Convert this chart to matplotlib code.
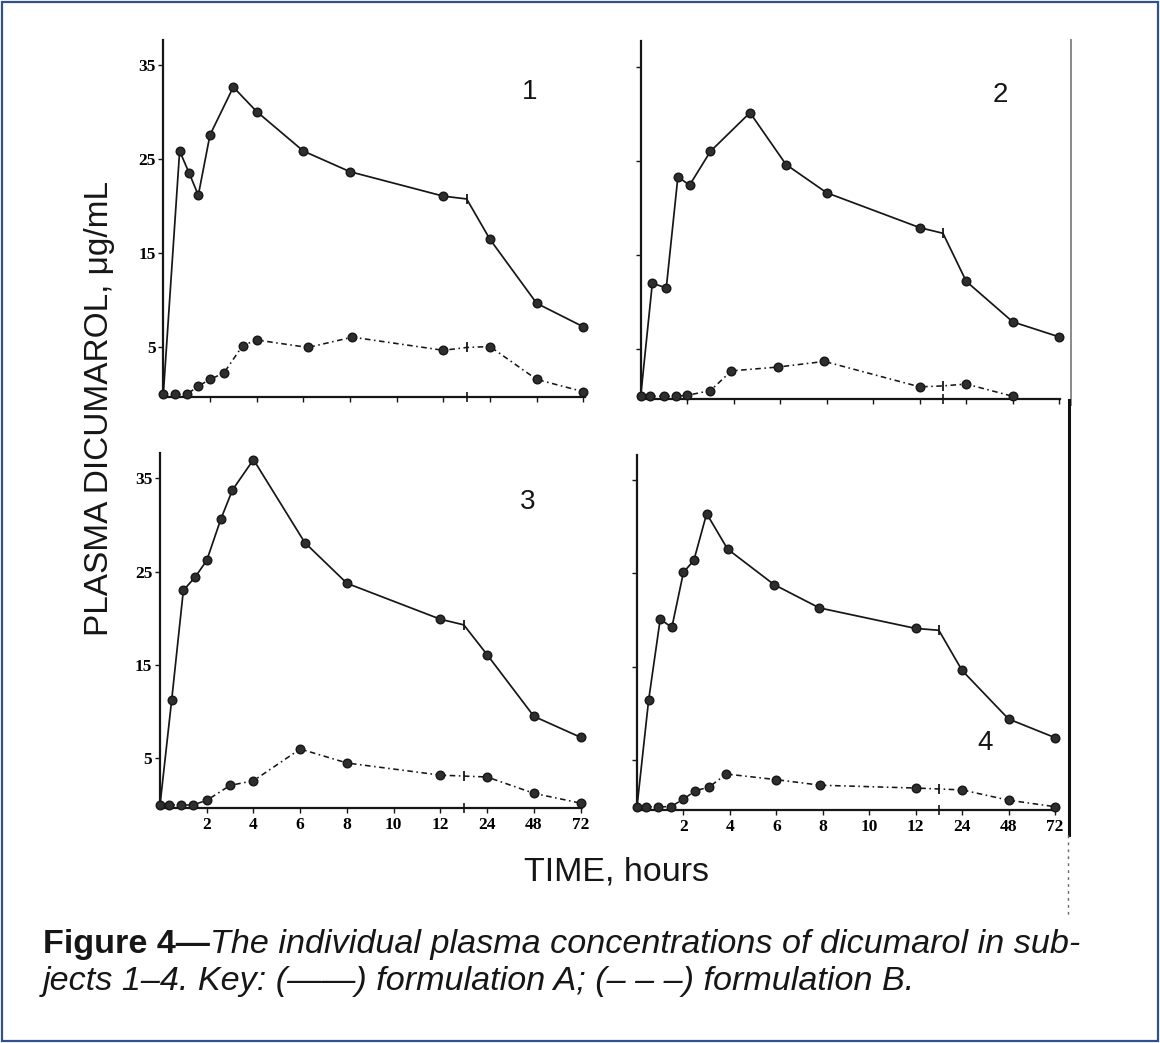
import matplotlib
matplotlib.use("Agg")
import matplotlib.pyplot as plt
import numpy as np
from matplotlib.lines import Line2D
from matplotlib.patches import Rectangle

# ---------------- data (hours, µg/mL) ----------------
tick_labels = ["2", "4", "6", "8", "10", "12", "24", "48", "72"]
tick_hours = [2, 4, 6, 8, 10, 12, 24, 48, 72]
y_ticks = [5, 15, 25, 35]
panel_names = ["1", "2", "3", "4"]

p1_a_t = [0, 0.7, 1.1, 1.5, 2, 3, 4, 6, 8, 12, 24, 48, 72]
p1_a_v = [0, 25.9, 23.6, 21.2, 27.6, 32.7, 30.1, 25.9, 23.7, 21.1, 16.5, 9.7, 7.2]
p1_a_break = 20.8
p1_b_t = [0.5, 1, 1.5, 2, 2.6, 3.4, 4, 6.2, 8.1, 12, 24, 48, 72]
p1_b_v = [0, 0, 0.9, 1.6, 2.3, 5.2, 5.8, 5.0, 6.1, 4.7, 5.1, 1.6, 0.3]
p1_b_break = 5.0

p2_a_t = [0, 0.5, 1.1, 1.6, 2.1, 3, 4.7, 6.25, 8, 12, 24, 48, 72]
p2_a_v = [0, 12.0, 11.5, 23.3, 22.4, 26.0, 30.1, 24.6, 21.6, 17.9, 12.2, 7.9, 6.3]
p2_a_break = 17.3
p2_b_t = [0.4, 1, 1.5, 2, 3, 3.9, 5.9, 7.9, 12, 24, 48]
p2_b_v = [0, 0, 0, 0.1, 0.6, 2.7, 3.1, 3.7, 1.0, 1.3, 0]
p2_b_break = 1.1

p3_a_t = [0, 0.5, 1, 1.5, 2, 2.6, 3.1, 4, 6.2, 8, 12, 24, 48, 72]
p3_a_v = [0, 11.25, 23.0, 24.4, 26.2, 30.6, 33.75, 37.0, 28.1, 23.75, 19.9, 16.1, 9.5, 7.25]
p3_a_break = 19.3
p3_b_t = [0.4, 0.9, 1.4, 2, 3, 4, 6, 8, 12, 24, 48, 72]
p3_b_v = [0, 0, 0, 0.5, 2.1, 2.6, 6.0, 4.5, 3.2, 3.0, 1.25, 0.2]
p3_b_break = 3.1

p4_a_t = [0, 0.5, 1, 1.5, 2, 2.45, 3, 3.9, 5.9, 7.85, 12, 24, 48, 72]
p4_a_v = [0, 11.4, 20.1, 19.2, 25.1, 26.4, 31.4, 27.6, 23.8, 21.3, 19.1, 14.6, 9.4, 7.4]
p4_a_break = 18.9
p4_b_t = [0.4, 0.9, 1.45, 2, 2.5, 3.1, 3.85, 6, 7.9, 12, 24, 48, 72]
p4_b_v = [0, 0, 0, 0.8, 1.7, 2.1, 3.5, 2.9, 2.3, 2.0, 1.8, 0.7, 0]
p4_b_break = 1.9

# ---------------- broken time axis ----------------
KNOT_H = [0, 12, 24, 48, 72]
KNOT_P = [0, 12, 14, 16, 18]
BREAK_P = 13.0


def pos(t):
    return np.interp(np.asarray(t, float), KNOT_H, KNOT_P)


W, H = 1160, 1043
fig = plt.figure(figsize=(W / 100, H / 100), dpi=100)
fig.patch.set_facecolor("white")


def box(l, r, b, t):
    return [l / W, 1 - b / H, (r - l) / W, (b - t) / H]


boxes = [
    box(163.3, 584.5, 397.3, 40.1),
    box(640.7, 1060.4, 399.1, 41.1),
    box(160.0, 581.8, 807.8, 453.1),
    box(637.0, 1056.1, 809.5, 454.8),
]
name_pos = [(15.7, 32.2), (15.45, 32.0), (15.75, 32.5), (15.0, 6.8)]

series = [
    (p1_a_t, p1_a_v, p1_a_break, p1_b_t, p1_b_v, p1_b_break),
    (p2_a_t, p2_a_v, p2_a_break, p2_b_t, p2_b_v, p2_b_break),
    (p3_a_t, p3_a_v, p3_a_break, p3_b_t, p3_b_v, p3_b_break),
    (p4_a_t, p4_a_v, p4_a_break, p4_b_t, p4_b_v, p4_b_break),
]

INK = "#161616"
tick_font = dict(family="Liberation Serif", weight="bold", size=12.5)


def draw_curve(ax, t, v, brk, ls, lw):
    p = pos(t)
    v = np.asarray(v, float)
    i = int(np.searchsorted(p, BREAK_P))
    lp = np.insert(p, i, BREAK_P)
    lv = np.insert(v, i, brk)
    ax.plot(lp, lv, color=INK, lw=lw, ls=ls, zorder=2, clip_on=False)
    ax.plot(p, v, ls="none", marker="o", ms=6.2, mfc="#2e2e2e", mec=INK,
            mew=1.0, zorder=3, clip_on=False)
    ax.plot([BREAK_P], [brk], ls="none", marker="|", ms=7, mew=1.3,
            color=INK, zorder=3)


for k, (ax_box, data) in enumerate(zip(boxes, series)):
    ax = fig.add_axes(ax_box)
    ax.set_xlim(0, 18.05)
    ax.set_ylim(-0.3, 37.7)
    for s in ("top", "right"):
        ax.spines[s].set_visible(False)
    for s in ("left", "bottom"):
        ax.spines[s].set_linewidth(1.6)
        ax.spines[s].set_color(INK)
    ax.patch.set_alpha(0)

    a_t, a_v, a_b, b_t, b_v, b_b = data
    draw_curve(ax, a_t, a_v, a_b, "-", 1.25)
    draw_curve(ax, b_t, b_v, b_b, (0, (3.5, 2.2, 1, 2.2)), 1.15)

    # axis-break mark on the time axis
    ax.plot([BREAK_P], [-0.3], ls="none", marker="|", ms=7, mew=1.2,
            color=INK, clip_on=False, zorder=4)

    ax.set_xticks(pos(tick_hours))
    ax.set_yticks(y_ticks)
    ax.tick_params(axis="both", direction="out", length=3.5, width=1.0,
                   color=INK, pad=2)
    if k >= 2:
        ax.set_xticklabels(tick_labels, fontdict=tick_font)
        ax.tick_params(axis="x", pad=3)
    else:
        ax.set_xticklabels([])
    if k in (0, 2):
        ax.set_yticklabels([str(y) for y in y_ticks], fontdict=tick_font)
    else:
        ax.set_yticklabels([])

    ax.text(name_pos[k][0], name_pos[k][1], panel_names[k], fontsize=20,
            family="Liberation Sans", ha="center", va="center", color=INK)

# axis titles
fig.text(100 / W, 1 - 409 / H, "PLASMA DICUMAROL, \u03bcg/mL", rotation=90,
         fontsize=24, family="Liberation Sans", ha="center", va="center",
         color=INK)
fig.text(617 / W, 1 - 872 / H, "TIME, hours", fontsize=24.5,
         family="Liberation Sans", ha="center", va="center", color=INK)

# caption
cap_size = 24.6
t1 = fig.text(43 / W, 1 - 953 / H, "Figure 4\u2014", fontsize=cap_size,
              family="Liberation Sans", weight="bold", ha="left",
              va="baseline", color=INK)
fig.canvas.draw()
r = fig.canvas.get_renderer()
bb = t1.get_window_extent(renderer=r)
fig.text(bb.x1 / W, 1 - 953 / H,
         "The individual plasma concentrations of dicumarol in sub-",
         fontsize=cap_size, family="Liberation Sans", style="italic",
         ha="left", va="baseline", color=INK)
fig.text(43 / W, 1 - 990 / H,
         "jects 1\u20134. Key: (\u2014\u2014) formulation A; (\u2013 \u2013 \u2013) formulation B.",
         fontsize=cap_size, family="Liberation Sans", style="italic",
         ha="left", va="baseline", color=INK)

# scanned page edge on the right
fig.add_artist(Line2D([1071 / W, 1071 / W], [1 - 40 / H, 1 - 405 / H],
                      color="#8a8a8a", lw=1.4, transform=fig.transFigure))
fig.add_artist(Line2D([1069 / W, 1069 / W], [1 - 400 / H, 1 - 835 / H],
                      color="#111111", lw=2.2, transform=fig.transFigure))
fig.add_artist(Line2D([1068 / W, 1068 / W], [1 - 835 / H, 1 - 918 / H],
                      color="#6a6a6a", lw=1.0, ls=(0, (2, 3)),
                      transform=fig.transFigure))

# outer frame
fig.add_artist(Rectangle((2 / W, 2 / H), (W - 4) / W, (H - 4) / H,
                         fill=False, edgecolor="#2f5191", lw=1.6,
                         transform=fig.transFigure))

fig.savefig("out.png", dpi=100, facecolor="white")
